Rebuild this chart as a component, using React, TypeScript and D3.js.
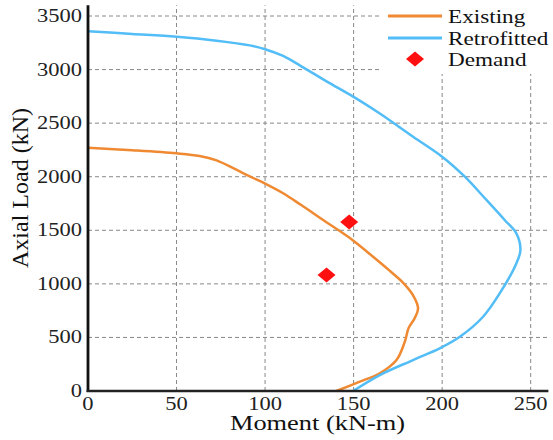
import React, { useEffect, useRef } from 'react';
import * as d3 from 'd3';

// interaction diagram points: [moment kN-m, axial kN]
const existing: [number, number][] = [
  [0, 2270], [25, 2247], [50, 2218], [63, 2193], [72.6, 2152], [82, 2080],
  [91.4, 2003], [100, 1936], [110.2, 1846], [120, 1740], [132.6, 1598],
  [149.5, 1408], [161, 1253], [170, 1128], [178, 1010], [183.5, 895],
  [186.4, 771], [184.5, 680], [181, 585], [178.9, 460], [174.2, 289],
  [164.8, 165], [153.5, 87], [140.3, 0],
];

const retrofitted: [number, number][] = [
  [0, 3358], [25, 3333], [50, 3307], [72.6, 3270], [91.4, 3226], [100, 3190],
  [110.2, 3127], [119.6, 3040], [134.7, 2890], [150, 2745], [164.8, 2590],
  [183.6, 2373], [200, 2187], [212.8, 2000], [225, 1783], [235.3, 1596],
  [241.9, 1471], [244.2, 1315], [241.9, 1191], [232.5, 911], [223.1, 693],
  [210, 506], [198.6, 398], [183.6, 289], [164.8, 149], [149.7, 0],
];

const demand: [number, number][] = [[147.5, 1577], [134.7, 1082]];

const xTicks = [0, 50, 100, 150, 200, 250];
const yTicks = [0, 500, 1000, 1500, 2000, 2500, 3000, 3500];
const legendLabels = ['Existing', 'Retrofitted', 'Demand'];

const FONT = '"Liberation Serif", "Times New Roman", serif';
const ORANGE = '#ef8a33';
const BLUE = '#52bdf6';
const RED = '#ff1010';

const W = 553, H = 440;

export default function App() {
  const ref = useRef<SVGSVGElement>(null);

  useEffect(() => {
    const svg = d3.select(ref.current);
    svg.selectAll('*').remove();

    const x = d3.scaleLinear().domain([0, 260]).range([88, 548.4]);
    const y = d3.scaleLinear().domain([0, 3600]).range([391, 5.3]);

    svg.append('rect').attr('width', W).attr('height', H).attr('fill', '#fff');

    // grid
    const grid = svg.append('g')
      .attr('stroke', '#888')
      .attr('stroke-width', 1)
      .attr('stroke-dasharray', '4,3');
    grid.selectAll('line.h')
      .data(yTicks.filter(d => d > 0))
      .enter().append('line')
      .attr('x1', x(0)).attr('x2', x(260))
      .attr('y1', d => y(d)).attr('y2', d => y(d));
    grid.selectAll('line.v')
      .data(xTicks.filter(d => d > 0))
      .enter().append('line')
      .attr('y1', y(0)).attr('y2', y(3600))
      .attr('x1', d => x(d)).attr('x2', d => x(d));

    // curves
    const line = d3.line<[number, number]>()
      .x(d => x(d[0]))
      .y(d => y(d[1]))
      .curve(d3.curveCatmullRom.alpha(0.5));

    svg.append('path').datum(existing)
      .attr('d', line).attr('fill', 'none')
      .attr('stroke', ORANGE).attr('stroke-width', 2.5);
    svg.append('path').datum(retrofitted)
      .attr('d', line).attr('fill', 'none')
      .attr('stroke', BLUE).attr('stroke-width', 2.5);

    const diamond = (cx: number, cy: number) =>
      `M${cx},${cy - 7.5}L${cx + 9},${cy}L${cx},${cy + 7.5}L${cx - 9},${cy}Z`;

    svg.selectAll('path.demand')
      .data(demand)
      .enter().append('path')
      .attr('d', d => diamond(x(d[0]), y(d[1])))
      .attr('fill', RED);

    // axes
    svg.append('line')
      .attr('x1', x(0)).attr('x2', x(0))
      .attr('y1', y(0) + 1).attr('y2', y(3600))
      .attr('stroke', '#111').attr('stroke-width', 2.8);
    svg.append('line')
      .attr('x1', x(0) - 1.4).attr('x2', x(260))
      .attr('y1', y(0)).attr('y2', y(0))
      .attr('stroke', '#222').attr('stroke-width', 2.5);

    // tick labels
    svg.selectAll('text.yt')
      .data(yTicks)
      .enter().append('text')
      .attr('transform', d => `translate(82,${y(d) + 6}) scale(1.25,1)`)
      .attr('text-anchor', 'end')
      .style('font-family', FONT).style('font-size', '18px').style('fill', '#222')
      .text(d => d);
    svg.selectAll('text.xt')
      .data(xTicks)
      .enter().append('text')
      .attr('transform', d => `translate(${x(d)},410) scale(1.25,1)`)
      .attr('text-anchor', 'middle')
      .style('font-family', FONT).style('font-size', '18px').style('fill', '#222')
      .text(d => d);

    // axis titles
    svg.append('text')
      .attr('transform', 'translate(317.5,430) scale(1.32,1)')
      .attr('text-anchor', 'middle')
      .style('font-family', FONT).style('font-size', '20px').style('fill', '#111')
      .text('Moment (kN-m)');
    svg.append('text')
      .attr('transform', 'translate(28,188) rotate(-90)')
      .attr('text-anchor', 'middle')
      .style('font-family', FONT).style('font-size', '24px').style('fill', '#111')
      .text('Axial Load (kN)');

    // legend
    const legend = svg.append('g');
    legend.append('rect')
      .attr('x', 380).attr('y', 0).attr('width', W - 380).attr('height', 74)
      .attr('fill', '#fff');
    const rows = [16, 38, 59];
    legend.append('line')
      .attr('x1', 388).attr('x2', 442).attr('y1', rows[0]).attr('y2', rows[0])
      .attr('stroke', ORANGE).attr('stroke-width', 3);
    legend.append('line')
      .attr('x1', 388).attr('x2', 442).attr('y1', rows[1]).attr('y2', rows[1])
      .attr('stroke', BLUE).attr('stroke-width', 3);
    legend.append('path')
      .attr('d', diamond(415, rows[2]))
      .attr('fill', RED);
    legend.selectAll('text')
      .data(legendLabels)
      .enter().append('text')
      .attr('transform', (d, i) => `translate(448,${rows[i] + 7}) scale(1.22,1)`)
      .style('font-family', FONT).style('font-size', '19px').style('fill', '#111')
      .text(d => d);
  }, []);

  return (
    <svg ref={ref} width={W} height={H}
         style={{ position: 'absolute', left: 0, top: 0 }} />
  );
}
